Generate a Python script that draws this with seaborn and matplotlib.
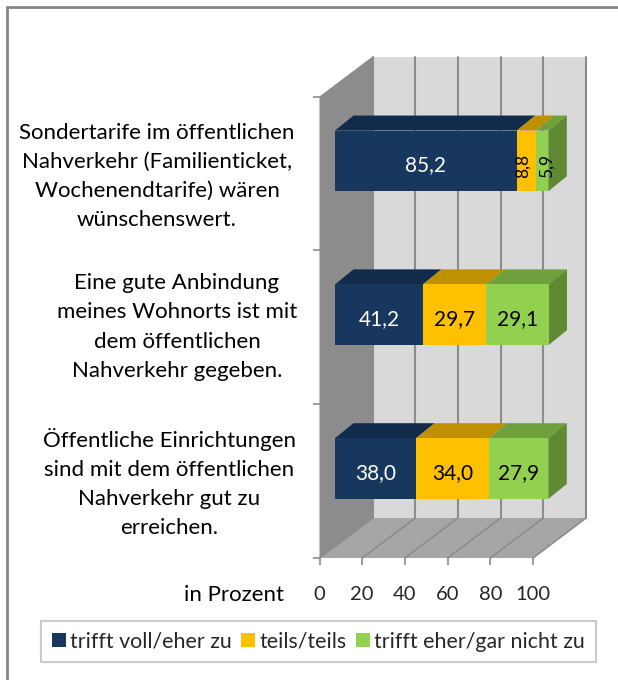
import matplotlib
matplotlib.use("Agg")
import matplotlib.pyplot as plt
import seaborn as sns
import numpy as np
import pandas as pd
from matplotlib.patches import Polygon, Rectangle

sns.set_theme(style="white")
plt.rcParams['font.family'] = ['Lato', 'DejaVu Sans']

categories = [
    "Sondertarife im öffentlichen\nNahverkehr (Familienticket,\nWochenendtarife) wären\nwünschenswert.",
    "Eine gute Anbindung\nmeines Wohnorts ist mit\ndem öffentlichen\nNahverkehr gegeben.",
    "Öffentliche Einrichtungen\nsind mit dem öffentlichen\nNahverkehr gut zu\nerreichen.",
]
label_x_px = [157, 177, 169]
label_y_px = [176.5, 327, 483]
series_names = ["trifft voll/eher zu", "teils/teils", "trifft eher/gar nicht zu"]
voll = [85.2, 41.2, 38.0]
teils = [8.8, 29.7, 34.0]
gar_nicht = [5.9, 29.1, 27.9]
xticks = [0, 20, 40, 60, 80, 100]

W, H = 618, 680
front_c = ["#17375E", "#FFC000", "#92D050"]
top_c = ["#132B4B", "#BF9000", "#6FA03C"]
side_c = "#5F8A33"
text_c = ["white", "black", "black"]

fig = plt.figure(figsize=(W / 100, H / 100), dpi=100, facecolor="white")

def rect(l, t, r, b):
    return [l / W, 1 - b / H, (r - l) / W, (b - t) / H]

# front plane of the chart box (walls and axis)
FX0, FX1, FY0, FY1 = 319.5, 533, 96.5, 558
ax = fig.add_axes(rect(FX0, FY0, FX1, FY1), facecolor="none")
# plane through the front of the bars
BX, BY = 15.5, -12.5
axb = fig.add_axes(rect(FX0 + BX, FY0 + BY, FX1 + BX, FY1 + BY), facecolor="none")

for a in (ax, axb):
    a.set_xlim(0, 100)
    a.set_ylim(2.5, -0.5)

px_x = 100 / (FX1 - FX0)
px_y = 3 / (FY1 - FY0)
WDX, WDY = 53 * px_x, 40 * px_y      # depth of the box
BDX, BDY = 18.5 * px_x, 15 * px_y    # depth of a bar

# box: back wall, side wall, floor
y_t, y_b = -0.5, 2.5
ax.add_patch(Polygon([(WDX, y_t - WDY), (100 + WDX, y_t - WDY), (100 + WDX, y_b - WDY), (WDX, y_b - WDY)],
                     fc="#D9D9D9", ec="none", clip_on=False, zorder=1))
ax.add_patch(Polygon([(0, y_t), (WDX, y_t - WDY), (WDX, y_b - WDY), (0, y_b)],
                     fc="#8C8C8C", ec="none", clip_on=False, zorder=1))
ax.add_patch(Polygon([(0, y_b), (100, y_b), (100 + WDX, y_b - WDY), (WDX, y_b - WDY)],
                     fc="#A6A6A6", ec="none", clip_on=False, zorder=1))
for t in xticks:
    ax.plot([t + WDX, t + WDX], [y_t - WDY, y_b - WDY], color="#8C8C8C", lw=1.5, clip_on=False, zorder=2)
    ax.plot([t, t + WDX], [y_b, y_b - WDY], color="#8C8C8C", lw=1.2, clip_on=False, zorder=2)

# bars: cumulative bars drawn back to front
df = pd.DataFrame({"cat": categories, "a": voll, "b": teils, "c": gar_nicht})
cum = df[["a", "b", "c"]].cumsum(axis=1)
for col, name, fc in list(zip(["c", "b", "a"], series_names[::-1], front_c[::-1])):
    sns.barplot(data=cum.assign(cat=df["cat"]), y="cat", x=col, orient="h", color=fc, saturation=1,
                width=0.395, ax=axb, label=name, zorder=4, clip_on=False, legend=False,
                linewidth=0, edgecolor="none")
axb.set_xlim(0, 100)
axb.set_ylim(2.5, -0.5)
axb.axis("off")

hw = 0.395 / 2
for i in range(3):
    lefts = np.array([0, voll[i], voll[i] + teils[i]])
    rights = cum.iloc[i].to_numpy()
    for j in range(3):
        l, r = lefts[j], rights[j]
        axb.add_patch(Polygon([(l, i - hw), (r, i - hw), (r + BDX, i - hw - BDY), (l + BDX, i - hw - BDY)],
                              fc=top_c[j], ec="none", clip_on=False, zorder=3))
    r = rights[2]
    axb.add_patch(Polygon([(r, i - hw), (r + BDX, i - hw - BDY), (r + BDX, i + hw - BDY), (r, i + hw)],
                          fc=side_c, ec="none", clip_on=False, zorder=3))
    vals = [voll[i], teils[i], gar_nicht[i]]
    for j in range(3):
        small = vals[j] < 10
        nudge = (-1.5 if j == 1 else 2.0) if small else 0
        axb.text((lefts[j] + rights[j]) / 2 + nudge, i + 0.03, f"{vals[j]:.1f}".replace(".", ","),
                 color=text_c[j], ha="center", va="center", rotation=90 if small else 0,
                 fontsize=12.5 if small else 15, zorder=6, clip_on=False)

# axis
ax.set_xticks(xticks)
ax.set_xticklabels([str(t) for t in xticks], fontsize=14.5)
ax.set_yticks([-0.5, 0.5, 1.5, 2.5])
ax.set_yticklabels([])
ax.tick_params(axis="both", length=5, width=1.2, color="#8C8C8C", pad=15, left=True, bottom=True)
ax.tick_params(axis="y", pad=2)
for s in ax.spines.values():
    s.set_visible(False)
ax.grid(False)

# category labels
for cat, xp, yp in zip(categories, label_x_px, label_y_px):
    fig.text(xp / W, 1 - yp / H, cat, ha="center", va="center", fontsize=16,
             linespacing=1.57, color="black")
fig.text(234 / W, 1 - 595 / H, "in Prozent", ha="center", va="center", fontsize=16, color="black")

# chart frame
fig.add_artist(Rectangle((7 / W, -0.01), 1, 1 - 7 / H + 0.01, fc="none", ec="#868686", lw=2,
                         transform=fig.transFigure))

# legend
handles, labels = axb.get_legend_handles_labels()
by = dict(zip(labels, handles))
leg = fig.legend([by[n] for n in series_names], series_names, loc="center",
                 bbox_to_anchor=(318.5 / W, 1 - 641.5 / H), ncol=3, frameon=True, fancybox=False,
                 fontsize=15.4, handlelength=0.65, handleheight=0.65, handletextpad=0.2, columnspacing=0.45,
                 edgecolor="#BFBFBF", facecolor="white", borderpad=0.5, borderaxespad=0)
leg.get_frame().set_linewidth(1.5)

fig.savefig("out.png", dpi=100)
